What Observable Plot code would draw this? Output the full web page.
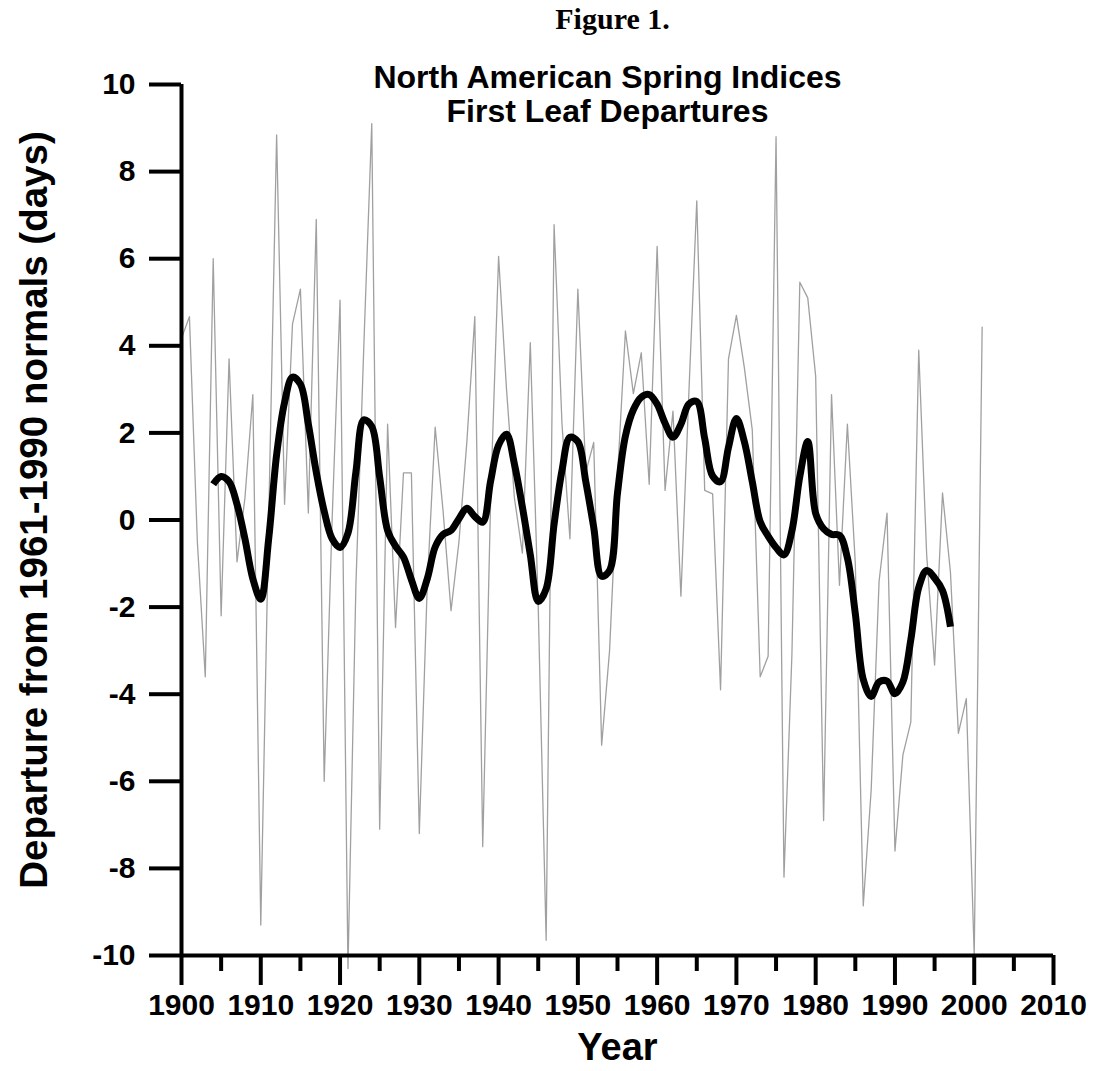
<!DOCTYPE html>
<html><head><meta charset="utf-8">
<script src="https://cdn.jsdelivr.net/npm/d3@7"></script>
<script src="https://cdn.jsdelivr.net/npm/@observablehq/plot@0.6"></script>
<style>
html,body{margin:0;padding:0;background:#fff;}
#chart{position:relative;width:1093px;height:1071px;}
</style></head><body><div id="chart"></div>
<script>
// Annual first-leaf departures (days), 1900-2001
const annualStart = 1900;
const annualValues = [
  4.17, 4.67, -0.5, -3.6, 6.0, -2.2, 3.7, -0.96, 0.5, 2.88,
  -9.3, 0.0, 8.84, 0.36, 4.5, 5.3, 0.16, 6.9, -6.0, 0.0,
  5.05, -10.3, -1.5, 4.0, 9.1, -7.1, 2.2, -2.47, 1.08, 1.08,
  -7.2, -1.5, 2.13, 0.2, -2.08, -0.5, 1.8, 4.67, -7.5, 0.5,
  6.05, 3.0, 0.5, -0.76, 4.07, -2.0, -9.65, 6.78, 2.2, -0.43,
  5.3, 1.1, 1.78, -5.17, -3.0, 1.0, 4.34, 2.9, 3.84, 0.82,
  6.28, 0.68, 2.5, -1.75, 2.9, 7.33, 0.68, 0.6, -3.9, 3.7,
  4.7, 3.5, 2.07, -3.6, -3.13, 8.8, -8.2, -3.1, 5.46, 5.1,
  3.3, -6.9, 2.88, -1.5, 2.2, -1.0, -8.86, -6.2, -1.4, 0.16,
  -7.6, -5.4, -4.64, 3.9, -0.8, -3.33, 0.62, -1.2, -4.9, -4.1,
  -10.0, 4.43
];
// Smoothed departures, 1904-1997
const smoothStart = 1904;
const smoothValues = [
  0.82, 1.0, 0.88, 0.36, -0.43, -1.35,
  -1.82, -0.43, 1.5, 2.7, 3.28, 3.12, 2.2, 1.1, 0.2, -0.43,
  -0.63, -0.3, 1.1, 2.3, 2.15, 0.98, -0.24, -0.6, -0.85, -1.37,
  -1.8, -1.35, -0.62, -0.33, -0.24, 0.03, 0.27, 0.08, -0.05, 0.9,
  1.72, 1.97, 1.28, 0.3, -0.8, -1.87, -1.58, -0.1, 1.14, 1.9,
  1.8, 0.88, -0.17, -1.29, -1.16, 0.62, 1.93, 2.53, 2.82, 2.88,
  2.66, 2.22, 1.9, 2.2, 2.66, 2.72, 1.87, 1.01, 0.88, 1.67,
  2.33, 1.8, 0.88, -0.04, -0.37, -0.63, -0.8, -0.25, 1.0, 1.8,
  0.15, -0.2, -0.33, -0.35, -0.87, -2.15, -3.66, -4.05, -3.72, -3.7,
  -3.99, -3.72, -2.75, -1.55, -1.16, -1.33, -1.62, -2.45
];
const xMajorTicks = [1900, 1910, 1920, 1930, 1940, 1950, 1960, 1970, 1980, 1990, 2000, 2010];
const xMinorTicks = [1905, 1915, 1925, 1935, 1945, 1955, 1965, 1975, 1985, 1995, 2005];
const yTicks = [-10, -8, -6, -4, -2, 0, 2, 4, 6, 8, 10];
const figureLabel = "Figure 1.";
const titleLines = ["North American Spring Indices", "First Leaf Departures"];
const xLabel = "Year";
const yLabel = "Departure from 1961-1990 normals (days)";

const annual = annualValues.map((v, i) => ({year: annualStart + i, value: v}));
const smooth = smoothValues.map((v, i) => ({year: smoothStart + i, value: v}));

const sans = "'Liberation Sans', Arial, Helvetica, sans-serif";
const serif = "'Liberation Serif', 'Times New Roman', serif";

const chart = Plot.plot({
  width: 1093,
  height: 1071,
  marginLeft: 181,
  marginRight: 40,
  marginTop: 84,
  marginBottom: 116,
  style: {fontFamily: sans, background: "#fff", overflow: "visible", color: "#000"},
  x: {domain: [1900, 2010]},
  y: {domain: [-10, 10]},
  marks: [
    Plot.line(annual, {x: "year", y: "value", stroke: "#a0a0a0", strokeWidth: 1.3}),
    Plot.line(smooth, {x: "year", y: "value", stroke: "#000", strokeWidth: 7, curve: "catmull-rom", strokeLinejoin: "round", strokeLinecap: "butt"}),
    Plot.ruleY([-10], {stroke: "#000", strokeWidth: 4}),
    Plot.ruleX([1900], {stroke: "#000", strokeWidth: 4}),
    Plot.axisX({ticks: xMajorTicks, tickSize: 30, tickPadding: 8, strokeWidth: 4, fontSize: 30, fontWeight: "bold", label: null, tickFormat: d => String(d)}),
    Plot.axisX({ticks: xMinorTicks, tickSize: 16, strokeWidth: 4, text: null, label: null}),
    Plot.axisY({ticks: yTicks, tickSize: 32, tickPadding: 14, strokeWidth: 4, fontSize: 30, fontWeight: "bold", label: null, tickFormat: d => String(d)}),
    Plot.text([xLabel], {frameAnchor: "bottom", lineAnchor: "middle", dy: 92, fontSize: 38, fontWeight: "bold"}),
    Plot.text([yLabel], {frameAnchor: "left", textAnchor: "middle", lineAnchor: "middle", rotate: -90, dx: -147, dy: -10, fontSize: 38.5, fontWeight: "bold"}),
    Plot.text([titleLines[0]], {frameAnchor: "top", lineAnchor: "middle", dx: -10, dy: -7, fontSize: 32, fontWeight: "bold"}),
    Plot.text([titleLines[1]], {frameAnchor: "top", lineAnchor: "middle", dx: -10, dy: 27.5, fontSize: 32, fontWeight: "bold"}),
    Plot.text([figureLabel], {frameAnchor: "top", lineAnchor: "middle", dx: -5, dy: -65, fontSize: 30, fontWeight: "bold", fontFamily: serif})
  ]
});
document.getElementById("chart").appendChild(chart);
</script>
</body></html>
